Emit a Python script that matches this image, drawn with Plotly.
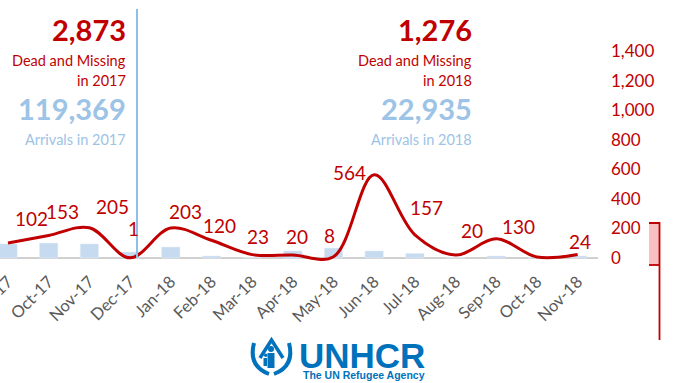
import plotly.graph_objects as go

# ---- data ----
months = ["Sep-17", "Oct-17", "Nov-17", "Dec-17", "Jan-18", "Feb-18", "Mar-18", "Apr-18",
          "May-18", "Jun-18", "Jul-18", "Aug-18", "Sep-18", "Oct-18", "Nov-18"]
dead_missing = [102, 153, 205, 1, 203, 120, 23, 20, 8, 564, 157, 20, 130, 7, 24]
dead_labels = ["102", "153", "205", "1", "203", "120", "23", "20", "8", "564", "157", "20", "130", "", "24"]
arrivals = [5900, 6300, 5900, 2500, 4600, 850, 200, 2950, 4200, 2950, 1900, 200, 850, 200, 850]
right_ticks = [0, 200, 400, 600, 800, 1000, 1200, 1400]

dead_2017, arr_2017 = "2,873", "119,369"
dead_2018, arr_2018 = "1,276", "22,935"

# ---- styling / layout helpers ----
W, H = 673, 383
ML, MR, MT, MB = 0, 75, 48, 121
PW, PH = W - ML - MR, H - MT - MB
RED = "#C00000"
LBLUE = "#9DC3E6"
BAR = "#C6DBEF"
UNBLUE = "#0072BC"
FONT = "Lato"

def px(x):
    return (x - ML) / PW

def py(y):
    return (H - MB - y) / PH

# label offsets (pixels) for each data label
lab_dx = [23, 14, 23, 3, 15, 8, 6, 4, -4, -25, 12, 16, 22, 0, 2]
lab_dy = [24, 24, 21, 29, 17, 15, 18, 19, 21, 2, 27, 25, 12, 0, 13]

fig = go.Figure()
fig.add_trace(go.Bar(x=months, y=arrivals, marker_color=BAR, width=0.45,
                     yaxis="y", hoverinfo="skip"))
fig.add_trace(go.Scatter(x=months, y=dead_missing, mode="lines", yaxis="y2",
                         line=dict(color=RED, width=3, shape="spline", smoothing=1.0),
                         hoverinfo="skip"))

annotations = []
for i, (m, v, t) in enumerate(zip(months, dead_missing, dead_labels)):
    if not t:
        continue
    annotations.append(dict(x=m, y=v, xref="x", yref="y2", text=t, showarrow=False,
                            xshift=lab_dx[i], yshift=lab_dy[i],
                            font=dict(family=FONT, size=19, color=RED)))

def block(xr, texts):
    out = []
    for (txt, yc, size, color, bold) in texts:
        out.append(dict(x=px(xr), y=py(yc), xref="paper", yref="paper",
                        xanchor="right", yanchor="middle", showarrow=False,
                        text=f"<b>{txt}</b>" if bold else txt,
                        font=dict(family=FONT, size=size, color=color)))
    return out

annotations += block(128, [(dead_2017, 29, 29, RED, True),
                           ("Dead and Missing", 60, 14.5, RED, False),
                           ("in 2017", 80, 14.5, RED, False),
                           (arr_2017, 108, 29, LBLUE, True),
                           ("Arrivals in 2017", 139, 14.5, LBLUE, False)])
annotations += block(474, [(dead_2018, 29, 29, RED, True),
                           ("Dead and Missing", 60, 14.5, RED, False),
                           ("in 2018", 80, 14.5, RED, False),
                           (arr_2018, 108, 29, LBLUE, True),
                           ("Arrivals in 2018", 139, 14.5, LBLUE, False)])

# UNHCR logo text
annotations.append(dict(x=px(297), y=py(355), xref="paper", yref="paper", xanchor="left",
                        yanchor="middle", showarrow=False, text="<b>UNHCR</b>",
                        font=dict(family="Liberation Sans", size=35, color=UNBLUE)))
annotations.append(dict(x=px(301), y=py(375), xref="paper", yref="paper", xanchor="left",
                        yanchor="middle", showarrow=False, text="<b>The UN Refugee Agency</b>",
                        font=dict(family="Liberation Sans", size=10.5, color=UNBLUE)))

shapes = []
# vertical separator
shapes.append(dict(type="line", xref="paper", yref="paper", x0=px(137), x1=px(137),
                   y0=py(258), y1=py(9), line=dict(color="#8DC0E6", width=2)))
# baseline
shapes.append(dict(type="line", xref="paper", yref="y2", x0=0, x1=1, y0=0, y1=0,
                   line=dict(color="#D0D0D0", width=2), layer="below"))
# right-side bracket artefact
shapes.append(dict(type="rect", xref="paper", yref="paper", x0=px(649), x1=px(659),
                   y0=py(265), y1=py(223), fillcolor="rgba(245,160,160,0.65)", line=dict(width=0)))
shapes.append(dict(type="path", xref="paper", yref="paper",
                   path=f"M{px(649)},{py(223)} L{px(659.5)},{py(223)} L{px(659.5)},{py(340)}",
                   line=dict(color=RED, width=1.8)))
shapes.append(dict(type="line", xref="paper", yref="paper", x0=px(649), x1=px(659.5),
                   y0=py(265), y1=py(265), line=dict(color=RED, width=1.8)))

# emblem approximation
def P(x, y):
    return f"{px(x)},{py(y)}"
shapes.append(dict(type="path", xref="paper", yref="paper",
                   path=f"M{P(254,343)} Q{P(248,366)} {P(269,374)}",
                   line=dict(color=UNBLUE, width=4)))
shapes.append(dict(type="path", xref="paper", yref="paper",
                   path=f"M{P(289,343)} Q{P(295,366)} {P(274,374)}",
                   line=dict(color=UNBLUE, width=4)))
shapes.append(dict(type="path", xref="paper", yref="paper",
                   path=f"M{P(260,358)} L{P(271.5,340)} L{P(283,358)}",
                   line=dict(color=UNBLUE, width=3.5)))
shapes.append(dict(type="circle", xref="paper", yref="paper", x0=px(268), x1=px(274),
                   y0=py(352), y1=py(346), fillcolor=UNBLUE, line=dict(width=0)))
shapes.append(dict(type="rect", xref="paper", yref="paper", x0=px(267.5), x1=px(274.5),
                   y0=py(368), y1=py(353), fillcolor=UNBLUE, line=dict(width=0)))
shapes.append(dict(type="circle", xref="paper", yref="paper", x0=px(264), x1=px(267.5),
                   y0=py(357), y1=py(353.5), fillcolor=UNBLUE, line=dict(width=0)))
shapes.append(dict(type="rect", xref="paper", yref="paper", x0=px(263.5), x1=px(267),
                   y0=py(366), y1=py(358), fillcolor=UNBLUE, line=dict(width=0)))

scale2 = 0.1475  # px per unit on right axis
y2_lo = -4 / scale2
y2_hi = y2_lo + PH / scale2
bar_scale = 420.0  # arrivals per px
y_lo = -4 * bar_scale
y_hi = y_lo + PH * bar_scale

x_lo = -8 / 40.69
x_hi = x_lo + PW / 40.69

fig.update_layout(
    width=W, height=H,
    margin=dict(l=ML, r=MR, t=MT, b=MB, pad=0, autoexpand=False),
    paper_bgcolor="white", plot_bgcolor="white",
    showlegend=False,
    font=dict(family=FONT),
    xaxis=dict(type="category", range=[x_lo, x_hi], tickangle=-45, showgrid=False,
               showline=False, zeroline=False, ticks="", automargin=False,
               ticklabelstandoff=6,
               tickfont=dict(family=FONT, size=16.5, color="#595959")),
    yaxis=dict(range=[y_lo, y_hi], visible=False, showgrid=False, zeroline=False,
               automargin=False),
    yaxis2=dict(range=[y2_lo, y2_hi], overlaying="y", side="right", showgrid=False,
                zeroline=False, showline=False, tickvals=right_ticks, tickformat=",",
                ticks="", ticklabelstandoff=12, automargin=False,
                tickfont=dict(family=FONT, size=17, color=RED)),
    annotations=annotations,
    shapes=shapes,
)

fig.write_html("out.html", config={"displayModeBar": False, "staticPlot": True},
               post_script="document.body.style.margin='0';document.body.style.overflow='hidden';")
